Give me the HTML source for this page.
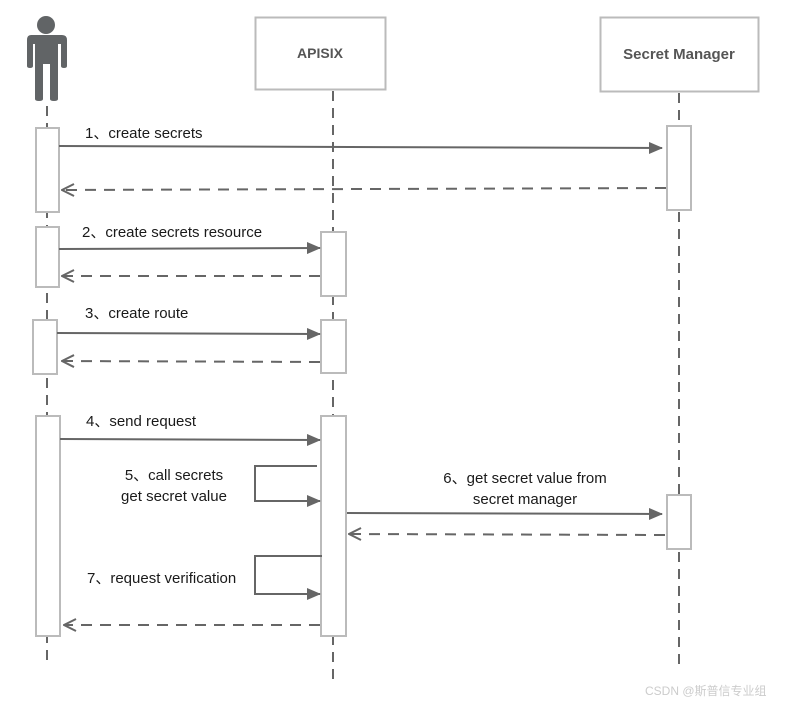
<!DOCTYPE html>
<html><head><meta charset="utf-8"><style>
html,body{margin:0;padding:0;background:#fff;}
svg{display:block;}
text{font-family:"Liberation Sans",Arial,sans-serif;fill:#1a1a1a;font-size:15px;}
</style></head><body>
<svg width="804" height="707" viewBox="0 0 804 707" xmlns="http://www.w3.org/2000/svg">
<defs>
<marker id="af" markerWidth="14" markerHeight="12" refX="13" refY="6" orient="auto" markerUnits="userSpaceOnUse"><path d="M0,0 L14,6 L0,12 Z" fill="#666"/></marker>
<marker id="ao" markerWidth="14" markerHeight="14" refX="13" refY="7" orient="auto" markerUnits="userSpaceOnUse"><path d="M1,1 L13,7 L1,13" fill="none" stroke="#666" stroke-width="2"/></marker>
</defs>
<g fill="#616466">
<circle cx="46" cy="25" r="9"/>
<path d="M31,35 H62 Q67,35 67,40 V66 Q67,68 64,68 Q61,68 61,66 V44 H58 V99 Q58,101 54,101 Q50,101 50,99 V64 H43 V99 Q43,101 39,101 Q35,101 35,99 V44 H33 V66 Q33,68 30,68 Q27,68 27,66 V40 Q27,35 31,35 Z"/>
</g>
<rect x="255.5" y="17.5" width="130" height="72" fill="#fff" stroke="#bbb" stroke-width="2"/>
<text x="320" y="58" text-anchor="middle" style="font-weight:bold;font-size:14px;fill:#555">APISIX</text>
<rect x="600.5" y="17.5" width="158" height="74" fill="#fff" stroke="#bbb" stroke-width="2"/>
<text x="679" y="59" text-anchor="middle" style="font-weight:bold;font-size:15px;fill:#555">Secret Manager</text>
<g stroke="#666" stroke-width="2" stroke-dasharray="10,7" fill="none">
<line x1="47" y1="106" x2="47" y2="662"/>
<line x1="333" y1="91" x2="333" y2="686"/>
<line x1="679" y1="93" x2="679" y2="666"/>
</g>
<g fill="#fff" stroke="#bbb" stroke-width="2">
<rect x="36" y="128" width="23" height="84"/>
<rect x="36" y="227" width="23" height="60"/>
<rect x="33" y="320" width="24" height="54"/>
<rect x="36" y="416" width="24" height="220"/>
<rect x="321" y="232" width="25" height="64"/>
<rect x="321" y="320" width="25" height="53"/>
<rect x="321" y="416" width="25" height="220"/>
<rect x="667" y="126" width="24" height="84"/>
<rect x="667" y="495" width="24" height="54"/>
</g>
<g stroke="#666" stroke-width="2" fill="none">
<line x1="59" y1="146" x2="662" y2="148" marker-end="url(#af)"/>
<line x1="666" y1="188" x2="62" y2="190" stroke-dasharray="11,8" marker-end="url(#ao)"/>
<line x1="59" y1="249" x2="320" y2="248" marker-end="url(#af)"/>
<line x1="320" y1="276" x2="62" y2="276" stroke-dasharray="11,8" marker-end="url(#ao)"/>
<line x1="57" y1="333" x2="320" y2="334" marker-end="url(#af)"/>
<line x1="320" y1="362" x2="62" y2="361" stroke-dasharray="11,8" marker-end="url(#ao)"/>
<line x1="60" y1="439" x2="320" y2="440" marker-end="url(#af)"/>
<polyline points="317,466 255,466 255,501 320,501" marker-end="url(#af)"/>
<line x1="347" y1="513" x2="662" y2="514" marker-end="url(#af)"/>
<line x1="665" y1="535" x2="349" y2="534" stroke-dasharray="11,8" marker-end="url(#ao)"/>
<polyline points="322,556 255,556 255,594 320,594" marker-end="url(#af)"/>
<line x1="320" y1="625" x2="64" y2="625" stroke-dasharray="11,8" marker-end="url(#ao)"/>
</g>
<text x="85" y="138">1、create secrets</text>
<text x="82" y="237">2、create secrets resource</text>
<text x="85" y="318">3、create route</text>
<text x="86" y="426">4、send request</text>
<text x="174" y="480" text-anchor="middle">5、call secrets</text>
<text x="174" y="501" text-anchor="middle">get secret value</text>
<text x="525" y="483" text-anchor="middle">6、get secret value from</text>
<text x="525" y="504" text-anchor="middle">secret manager</text>
<text x="87" y="583">7、request verification</text>
<text x="645" y="695" style="font-size:12px;fill:#ccc;font-family:'Liberation Sans','Noto Sans CJK SC',sans-serif">CSDN @斯普信专业组</text>
</svg>
</body></html>
